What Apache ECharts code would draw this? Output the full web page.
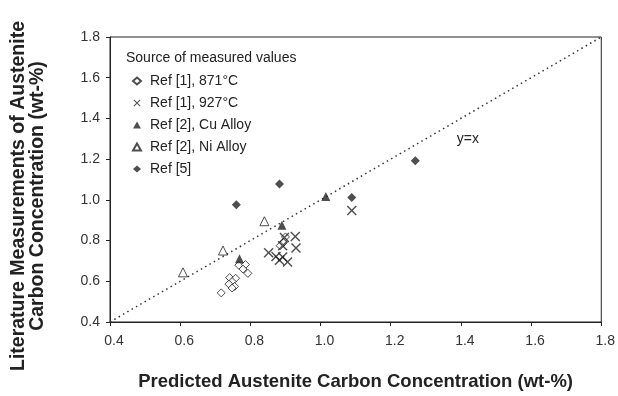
<!DOCTYPE html>
<html>
<head>
<meta charset="utf-8">
<script src="https://cdn.jsdelivr.net/npm/echarts@6/dist/echarts.min.js"></script>
<style>
  html, body { margin: 0; padding: 0; background: #fff; }
  #chart { width: 618px; height: 396px; }
</style>
</head>
<body>
<div id="chart"></div>
<script>
// measured vs predicted carbon (wt-%), [predicted, measured]
const ref1_871 = [
  [0.767, 0.679], [0.786, 0.682], [0.779, 0.660], [0.793, 0.639],
  [0.741, 0.618], [0.758, 0.615], [0.748, 0.599], [0.739, 0.586],
  [0.755, 0.575], [0.748, 0.567], [0.717, 0.543],
  [0.900, 0.818], [0.894, 0.790], [0.885, 0.775]
];
const ref1_927 = [
  [0.852, 0.740], [0.873, 0.722], [0.892, 0.719], [0.883, 0.703],
  [0.906, 0.695], [0.897, 0.815], [0.892, 0.775], [0.928, 0.820],
  [0.930, 0.764], [1.089, 0.948]
];
const ref2_cu = [[0.769, 0.711], [0.890, 0.875], [1.015, 1.016]];
const ref2_ni = [[0.608, 0.644], [0.722, 0.751], [0.840, 0.895]];
const ref5 = [[0.760, 0.976], [0.883, 1.078], [1.089, 1.012], [1.270, 1.192]];
const identityLine = [[0.4, 0.4], [1.8, 1.8]];
const seriesNames = ["Ref [1], 871°C", "Ref [1], 927°C", "Ref [2], Cu Alloy", "Ref [2], Ni Alloy", "Ref [5]"];

const ink = "#222";
const font = "'Liberation Sans', Arial, Helvetica, sans-serif";
const crossPath = "path://M0,1L1,0L5,4L9,0L10,1L6,5L10,9L9,10L5,6L1,10L0,9L4,5Z";

const chart = echarts.init(document.getElementById("chart"));
chart.setOption({
  animation: false,
  textStyle: { fontFamily: font },
  grid: { left: 110, right: 15, top: 37, bottom: 68, show: true, borderColor: ink, borderWidth: 1 },
  title: {
    text: "Source of measured values",
    left: 121,
    top: 46,
    textStyle: { fontSize: 14, fontWeight: "normal", color: ink, fontFamily: font }
  },
  graphic: [{
    type: "text",
    x: 28,
    y: 196,
    rotation: Math.PI / 2,
    style: {
      text: "Literature Measurements of Austenite\nCarbon Concentration (wt-%)",
      font: "bold 19.5px " + font,
      fill: ink,
      align: "center",
      verticalAlign: "middle",
      lineHeight: 19
    }
  }],
  legend: {
    orient: "vertical",
    left: 127,
    top: 69,
    itemWidth: 8,
    itemHeight: 7,
    itemGap: 8,
    textStyle: { fontSize: 14, color: ink, lineHeight: 14, padding: [0, 0, 0, 4], fontFamily: font },
    data: [
      { name: seriesNames[0], icon: "diamond" },
      { name: seriesNames[1], icon: crossPath },
      { name: seriesNames[2], icon: "triangle" },
      { name: seriesNames[3], icon: "triangle" },
      { name: seriesNames[4], icon: "diamond" }
    ]
  },
  xAxis: {
    type: "value",
    min: 0.4,
    max: 1.8,
    interval: 0.2,
    name: "Predicted Austenite Carbon Concentration (wt-%)",
    nameLocation: "middle",
    nameGap: 50,
    nameTextStyle: { fontSize: 18.5, fontWeight: "bold", color: ink, fontFamily: font },
    axisLine: { show: true, lineStyle: { color: ink } },
    axisTick: { show: true, length: 4, lineStyle: { color: ink } },
    axisLabel: { fontSize: 14, color: "#333", margin: 12, padding: [0, 0, 0, 8], formatter: v => v.toFixed(1) },
    splitLine: { show: false }
  },
  yAxis: {
    type: "value",
    min: 0.4,
    max: 1.8,
    interval: 0.2,
    axisLine: { show: true, lineStyle: { color: ink } },
    axisTick: { show: true, length: 4, lineStyle: { color: ink } },
    axisLabel: { fontSize: 14, color: "#333", margin: 10, padding: [8, 0, 0, 0], formatter: v => v.toFixed(1) },
    splitLine: { show: false }
  },
  series: [
    {
      type: "line",
      data: identityLine,
      symbol: "none",
      silent: true,
      lineStyle: { color: "#333", width: 1.5, type: [1.5, 3.5] },
      markPoint: {
        symbol: "circle",
        symbolSize: 0,
        data: [{ coord: [1.42, 1.30] }],
        label: { show: true, formatter: "y=x", color: ink, fontSize: 14, fontFamily: font }
      },
      z: 1
    },
    {
      name: seriesNames[0],
      type: "scatter",
      data: ref1_871,
      symbol: "diamond",
      symbolSize: 8,
      itemStyle: { color: "#fff", borderColor: ink, borderWidth: 1 }
    },
    {
      name: seriesNames[1],
      type: "scatter",
      data: ref1_927,
      symbol: crossPath,
      symbolSize: 10,
      itemStyle: { color: ink }
    },
    {
      name: seriesNames[2],
      type: "scatter",
      data: ref2_cu,
      symbol: "triangle",
      symbolSize: 9,
      itemStyle: { color: ink }
    },
    {
      name: seriesNames[3],
      type: "scatter",
      data: ref2_ni,
      symbol: "triangle",
      symbolSize: 9,
      itemStyle: { color: "#fff", borderColor: ink, borderWidth: 1 }
    },
    {
      name: seriesNames[4],
      type: "scatter",
      data: ref5,
      symbol: "diamond",
      symbolSize: 9,
      itemStyle: { color: ink }
    }
  ]
});
</script>
</body>
</html>
